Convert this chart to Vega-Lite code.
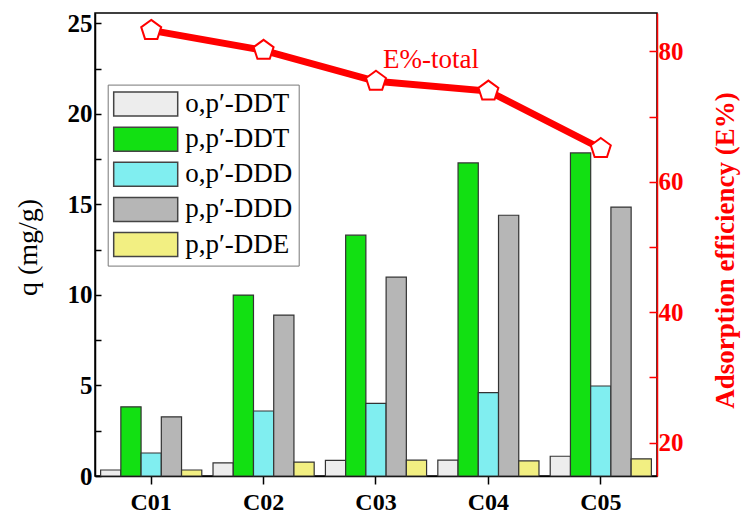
{
  "$schema": "https://vega.github.io/schema/vega-lite/v6.json",
  "width": 562,
  "height": 463,
  "autosize": {"type": "none"},
  "padding": {"left": 95, "top": 13, "right": 99, "bottom": 46},
  "background": "white",
  "config": {
    "font": "Liberation Serif",
    "view": {"stroke": "black", "strokeWidth": 1.5},
    "axis": {"grid": false}
  },
  "datasets": {
    "bars": [
      {"cat": "C01", "compound": "o,p′-DDT", "q": 0.33},
      {"cat": "C01", "compound": "p,p′-DDT", "q": 3.82},
      {"cat": "C01", "compound": "o,p′-DDD", "q": 1.27},
      {"cat": "C01", "compound": "p,p′-DDD", "q": 3.27},
      {"cat": "C01", "compound": "p,p′-DDE", "q": 0.33},
      {"cat": "C02", "compound": "o,p′-DDT", "q": 0.73},
      {"cat": "C02", "compound": "p,p′-DDT", "q": 9.99},
      {"cat": "C02", "compound": "o,p′-DDD", "q": 3.59},
      {"cat": "C02", "compound": "p,p′-DDD", "q": 8.89},
      {"cat": "C02", "compound": "p,p′-DDE", "q": 0.77},
      {"cat": "C03", "compound": "o,p′-DDT", "q": 0.86},
      {"cat": "C03", "compound": "p,p′-DDT", "q": 13.3},
      {"cat": "C03", "compound": "o,p′-DDD", "q": 4.01},
      {"cat": "C03", "compound": "p,p′-DDD", "q": 10.98},
      {"cat": "C03", "compound": "p,p′-DDE", "q": 0.88},
      {"cat": "C04", "compound": "o,p′-DDT", "q": 0.88},
      {"cat": "C04", "compound": "p,p′-DDT", "q": 17.29},
      {"cat": "C04", "compound": "o,p′-DDD", "q": 4.6},
      {"cat": "C04", "compound": "p,p′-DDD", "q": 14.4},
      {"cat": "C04", "compound": "p,p′-DDE", "q": 0.83},
      {"cat": "C05", "compound": "o,p′-DDT", "q": 1.09},
      {"cat": "C05", "compound": "p,p′-DDT", "q": 17.84},
      {"cat": "C05", "compound": "o,p′-DDD", "q": 4.97},
      {"cat": "C05", "compound": "p,p′-DDD", "q": 14.85},
      {"cat": "C05", "compound": "p,p′-DDE", "q": 0.95}
    ],
    "eff": [
      {"cat": "C01", "E": 83.2},
      {"cat": "C02", "E": 80.15},
      {"cat": "C03", "E": 75.4},
      {"cat": "C04", "E": 73.9},
      {"cat": "C05", "E": 65.1}
    ],
    "lab": [
      {"cat": "C03", "E": 78.6, "text": "E%-total"}
    ]
  },
  "encoding": {
    "x": {
      "field": "cat",
      "type": "nominal",
      "sort": ["C01", "C02", "C03", "C04", "C05"],
      "scale": {"paddingInner": 0.1, "paddingOuter": 0.05},
      "axis": {
        "orient": "bottom",
        "title": null,
        "labelAngle": 0,
        "labelFontSize": 24,
        "labelFontWeight": "bold",
        "labelColor": "black",
        "labelPadding": 6,
        "tickSize": 8,
        "tickColor": "black",
        "tickWidth": 1.5,
        "domainColor": "black",
        "domainWidth": 1.5
      }
    }
  },
  "layer": [
    {
      "data": {"name": "bars"},
      "mark": {"type": "bar", "stroke": "#333333", "strokeWidth": 1.2, "opacity": 1},
      "encoding": {
        "xOffset": {
          "field": "compound",
          "type": "nominal",
          "sort": ["o,p′-DDT", "p,p′-DDT", "o,p′-DDD", "p,p′-DDD", "p,p′-DDE"],
          "scale": {"paddingInner": 0, "paddingOuter": 0}
        },
        "y": {
          "field": "q",
          "type": "quantitative",
          "scale": {"domain": [0, 25.57], "nice": false, "zero": false},
          "axis": {
            "orient": "left",
            "title": "q (mg/g)",
            "titleFontSize": 28,
            "titleFontWeight": "normal",
            "titleColor": "black",
            "titleAngle": 270,
            "titleX": -67,
            "titleY": 234,
            "titleAlign": "center",
            "titleBaseline": "middle",
            "values": [0, 2.5, 5, 7.5, 10, 12.5, 15, 17.5, 20, 22.5, 25],
            "labelExpr": "datum.value % 5 == 0 ? datum.label : ''",
            "labelFontSize": 25,
            "labelFontWeight": "bold",
            "labelColor": "black",
            "labelPadding": 9,
            "tickSize": -6,
            "tickColor": "black",
            "tickWidth": 1.5,
            "domainColor": "black",
            "domainWidth": 1.5
          }
        },
        "color": {
          "field": "compound",
          "type": "nominal",
          "sort": ["o,p′-DDT", "p,p′-DDT", "o,p′-DDD", "p,p′-DDD", "p,p′-DDE"],
          "scale": {
            "domain": ["o,p′-DDT", "p,p′-DDT", "o,p′-DDD", "p,p′-DDD", "p,p′-DDE"],
            "range": ["#ededed", "#12e012", "#80eef0", "#b6b6b6", "#f2ef82"]
          },
          "legend": {
            "orient": "none",
            "legendX": 12.7,
            "legendY": 71.6,
            "title": null,
            "symbolType": "M-2.667,-1L2.667,-1L2.667,1L-2.667,1Z",
            "symbolSize": 576,
            "symbolOffset": 18.5,
            "symbolStrokeColor": "#444444",
            "symbolStrokeWidth": 1.5,
            "symbolOpacity": 1,
            "labelFontSize": 27,
            "labelColor": "black",
            "labelOffset": 26,
            "rowPadding": 4.1,
            "padding": 6,
            "fillColor": "white",
            "strokeColor": "#777777"
          }
        }
      }
    },
    {
      "layer": [
        {
          "data": {"name": "eff"},
          "mark": {"type": "line", "color": "#ff0000", "strokeWidth": 7},
          "encoding": {
            "x": {"field": "cat", "type": "nominal", "axis": null},
            "y": {
              "field": "E",
              "type": "quantitative",
              "scale": {"domain": [14.9, 85.87], "nice": false, "zero": false},
              "axis": {
                "orient": "right",
                "title": "Adsorption efficiency (E%)",
                "titleFontSize": 27,
                "titleFontWeight": "bold",
                "titleColor": "#ff0000",
                "titleAngle": 270,
                "titleX": 68,
                "titleY": 237,
                "titleAlign": "center",
                "titleBaseline": "middle",
                "values": [20, 30, 40, 50, 60, 70, 80],
                "labelExpr": "datum.value % 20 == 0 ? datum.label : ''",
                "labelFontSize": 25,
                "labelFontWeight": "bold",
                "labelColor": "#ff0000",
                "labelPadding": 9,
                "tickSize": -8,
                "tickColor": "#ff0000",
                "tickWidth": 1.5,
                "domainColor": "#ff0000",
                "domainWidth": 1.5
              }
            }
          }
        },
        {
          "data": {"name": "eff"},
          "mark": {
            "type": "point",
            "shape": "M0,-1L0.951,-0.309L0.588,0.809L-0.588,0.809L-0.951,-0.309Z",
            "size": 441,
            "filled": true,
            "fill": "white",
            "stroke": "#ff0000",
            "strokeWidth": 2,
            "opacity": 1
          },
          "encoding": {
            "x": {"field": "cat", "type": "nominal", "axis": null},
            "y": {"field": "E", "type": "quantitative"}
          }
        },
        {
          "data": {"name": "lab"},
          "mark": {"type": "text", "align": "left", "baseline": "middle", "fontSize": 27, "color": "#ff0000"},
          "encoding": {
            "x": {
              "field": "cat",
              "type": "nominal",
              "bandPosition": 0.57,
              "axis": {
                "orient": "bottom",
                "title": null,
                "labels": false,
                "domain": false,
                "tickBand": "extent",
                "tickSize": 5,
                "tickColor": "black",
                "tickWidth": 1.5
              }
            },
            "y": {"field": "E", "type": "quantitative"},
            "text": {"field": "text"}
          }
        }
      ]
    }
  ],
  "resolve": {"scale": {"y": "independent"}, "axis": {"x": "independent"}}
}
